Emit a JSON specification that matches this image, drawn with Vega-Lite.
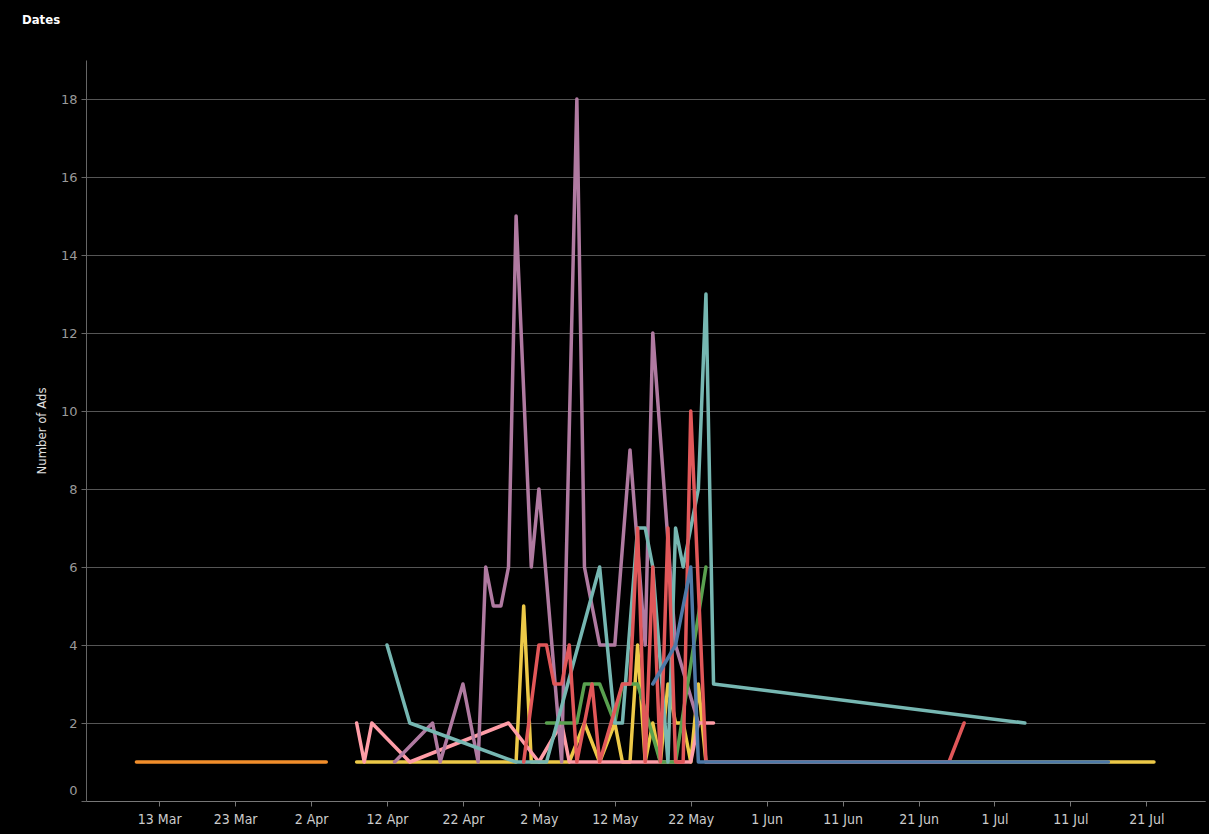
{
  "$schema": "https://vega.github.io/schema/vega-lite/v6.json",
  "width": 1119,
  "height": 741,
  "autosize": {"type": "none"},
  "padding": {"left": 86, "top": 60, "right": 4, "bottom": 33},
  "background": "#000000",
  "title": {
    "text": "Dates",
    "anchor": "start",
    "frame": "group",
    "dx": -64,
    "offset": 33,
    "font": "DejaVu Sans Condensed, Roboto, sans-serif",
    "fontSize": 13,
    "fontWeight": "bold",
    "color": "#ffffff"
  },
  "config": {
    "view": {"stroke": null},
    "axis": {"labelFont": "DejaVu Sans Condensed, Roboto, sans-serif", "titleFont": "DejaVu Sans Condensed, Roboto, sans-serif"}
  },
  "data": {
    "values": [
      {"ad": "Ad 1", "date": "2019-03-10", "ads": 1},
      {"ad": "Ad 1", "date": "2019-03-29", "ads": 1},
      {"ad": "Ad 1", "date": "2019-04-04", "ads": 1},

      {"ad": "Ad 2", "date": "2019-04-08", "ads": 1},
      {"ad": "Ad 2", "date": "2019-04-15", "ads": 1},
      {"ad": "Ad 2", "date": "2019-04-22", "ads": 1},
      {"ad": "Ad 2", "date": "2019-04-29", "ads": 1},
      {"ad": "Ad 2", "date": "2019-04-30", "ads": 5},
      {"ad": "Ad 2", "date": "2019-05-01", "ads": 1},
      {"ad": "Ad 2", "date": "2019-05-06", "ads": 1},
      {"ad": "Ad 2", "date": "2019-05-08", "ads": 2},
      {"ad": "Ad 2", "date": "2019-05-10", "ads": 1},
      {"ad": "Ad 2", "date": "2019-05-12", "ads": 2},
      {"ad": "Ad 2", "date": "2019-05-13", "ads": 1},
      {"ad": "Ad 2", "date": "2019-05-14", "ads": 1},
      {"ad": "Ad 2", "date": "2019-05-15", "ads": 4},
      {"ad": "Ad 2", "date": "2019-05-16", "ads": 1},
      {"ad": "Ad 2", "date": "2019-05-17", "ads": 2},
      {"ad": "Ad 2", "date": "2019-05-18", "ads": 1},
      {"ad": "Ad 2", "date": "2019-05-19", "ads": 3},
      {"ad": "Ad 2", "date": "2019-05-20", "ads": 2},
      {"ad": "Ad 2", "date": "2019-05-21", "ads": 2},
      {"ad": "Ad 2", "date": "2019-05-22", "ads": 1},
      {"ad": "Ad 2", "date": "2019-05-23", "ads": 3},
      {"ad": "Ad 2", "date": "2019-05-24", "ads": 1},
      {"ad": "Ad 2", "date": "2019-07-22", "ads": 1},

      {"ad": "Ad 3", "date": "2019-04-08", "ads": 2},
      {"ad": "Ad 3", "date": "2019-04-09", "ads": 1},
      {"ad": "Ad 3", "date": "2019-04-10", "ads": 2},
      {"ad": "Ad 3", "date": "2019-04-15", "ads": 1},
      {"ad": "Ad 3", "date": "2019-04-28", "ads": 2},
      {"ad": "Ad 3", "date": "2019-05-02", "ads": 1},
      {"ad": "Ad 3", "date": "2019-05-05", "ads": 2},
      {"ad": "Ad 3", "date": "2019-05-06", "ads": 1},
      {"ad": "Ad 3", "date": "2019-05-12", "ads": 1},
      {"ad": "Ad 3", "date": "2019-05-18", "ads": 1},
      {"ad": "Ad 3", "date": "2019-05-22", "ads": 1},
      {"ad": "Ad 3", "date": "2019-05-23", "ads": 2},
      {"ad": "Ad 3", "date": "2019-05-25", "ads": 2},

      {"ad": "Ad 4", "date": "2019-04-13", "ads": 1},
      {"ad": "Ad 4", "date": "2019-04-18", "ads": 2},
      {"ad": "Ad 4", "date": "2019-04-19", "ads": 1},
      {"ad": "Ad 4", "date": "2019-04-22", "ads": 3},
      {"ad": "Ad 4", "date": "2019-04-24", "ads": 1},
      {"ad": "Ad 4", "date": "2019-04-25", "ads": 6},
      {"ad": "Ad 4", "date": "2019-04-26", "ads": 5},
      {"ad": "Ad 4", "date": "2019-04-27", "ads": 5},
      {"ad": "Ad 4", "date": "2019-04-28", "ads": 6},
      {"ad": "Ad 4", "date": "2019-04-29", "ads": 15},
      {"ad": "Ad 4", "date": "2019-05-01", "ads": 6},
      {"ad": "Ad 4", "date": "2019-05-02", "ads": 8},
      {"ad": "Ad 4", "date": "2019-05-05", "ads": 1},
      {"ad": "Ad 4", "date": "2019-05-07", "ads": 18},
      {"ad": "Ad 4", "date": "2019-05-08", "ads": 6},
      {"ad": "Ad 4", "date": "2019-05-10", "ads": 4},
      {"ad": "Ad 4", "date": "2019-05-12", "ads": 4},
      {"ad": "Ad 4", "date": "2019-05-14", "ads": 9},
      {"ad": "Ad 4", "date": "2019-05-16", "ads": 4},
      {"ad": "Ad 4", "date": "2019-05-17", "ads": 12},
      {"ad": "Ad 4", "date": "2019-05-20", "ads": 4},
      {"ad": "Ad 4", "date": "2019-05-23", "ads": 2},

      {"ad": "Ad 5", "date": "2019-05-03", "ads": 2},
      {"ad": "Ad 5", "date": "2019-05-05", "ads": 2},
      {"ad": "Ad 5", "date": "2019-05-07", "ads": 2},
      {"ad": "Ad 5", "date": "2019-05-08", "ads": 3},
      {"ad": "Ad 5", "date": "2019-05-10", "ads": 3},
      {"ad": "Ad 5", "date": "2019-05-12", "ads": 2},
      {"ad": "Ad 5", "date": "2019-05-13", "ads": 3},
      {"ad": "Ad 5", "date": "2019-05-15", "ads": 3},
      {"ad": "Ad 5", "date": "2019-05-18", "ads": 1},
      {"ad": "Ad 5", "date": "2019-05-20", "ads": 1},
      {"ad": "Ad 5", "date": "2019-05-24", "ads": 6},

      {"ad": "Ad 6", "date": "2019-04-12", "ads": 4},
      {"ad": "Ad 6", "date": "2019-04-15", "ads": 2},
      {"ad": "Ad 6", "date": "2019-04-29", "ads": 1},
      {"ad": "Ad 6", "date": "2019-05-03", "ads": 1},
      {"ad": "Ad 6", "date": "2019-05-10", "ads": 6},
      {"ad": "Ad 6", "date": "2019-05-12", "ads": 2},
      {"ad": "Ad 6", "date": "2019-05-13", "ads": 2},
      {"ad": "Ad 6", "date": "2019-05-15", "ads": 7},
      {"ad": "Ad 6", "date": "2019-05-16", "ads": 7},
      {"ad": "Ad 6", "date": "2019-05-17", "ads": 6},
      {"ad": "Ad 6", "date": "2019-05-19", "ads": 1},
      {"ad": "Ad 6", "date": "2019-05-20", "ads": 7},
      {"ad": "Ad 6", "date": "2019-05-21", "ads": 6},
      {"ad": "Ad 6", "date": "2019-05-23", "ads": 8},
      {"ad": "Ad 6", "date": "2019-05-24", "ads": 13},
      {"ad": "Ad 6", "date": "2019-05-25", "ads": 3},
      {"ad": "Ad 6", "date": "2019-07-05", "ads": 2},

      {"ad": "Ad 7", "date": "2019-04-30", "ads": 1},
      {"ad": "Ad 7", "date": "2019-05-02", "ads": 4},
      {"ad": "Ad 7", "date": "2019-05-03", "ads": 4},
      {"ad": "Ad 7", "date": "2019-05-04", "ads": 3},
      {"ad": "Ad 7", "date": "2019-05-05", "ads": 3},
      {"ad": "Ad 7", "date": "2019-05-06", "ads": 4},
      {"ad": "Ad 7", "date": "2019-05-07", "ads": 1},
      {"ad": "Ad 7", "date": "2019-05-09", "ads": 3},
      {"ad": "Ad 7", "date": "2019-05-10", "ads": 1},
      {"ad": "Ad 7", "date": "2019-05-13", "ads": 3},
      {"ad": "Ad 7", "date": "2019-05-14", "ads": 3},
      {"ad": "Ad 7", "date": "2019-05-15", "ads": 7},
      {"ad": "Ad 7", "date": "2019-05-16", "ads": 1},
      {"ad": "Ad 7", "date": "2019-05-17", "ads": 6},
      {"ad": "Ad 7", "date": "2019-05-18", "ads": 1},
      {"ad": "Ad 7", "date": "2019-05-19", "ads": 7},
      {"ad": "Ad 7", "date": "2019-05-20", "ads": 1},
      {"ad": "Ad 7", "date": "2019-05-21", "ads": 1},
      {"ad": "Ad 7", "date": "2019-05-22", "ads": 10},
      {"ad": "Ad 7", "date": "2019-05-24", "ads": 1},
      {"ad": "Ad 7", "date": "2019-06-25", "ads": 1},
      {"ad": "Ad 7", "date": "2019-06-27", "ads": 2},

      {"ad": "Ad 8", "date": "2019-05-17", "ads": 3},
      {"ad": "Ad 8", "date": "2019-05-20", "ads": 4},
      {"ad": "Ad 8", "date": "2019-05-22", "ads": 6},
      {"ad": "Ad 8", "date": "2019-05-23", "ads": 1},
      {"ad": "Ad 8", "date": "2019-06-04", "ads": 1},
      {"ad": "Ad 8", "date": "2019-06-22", "ads": 1},
      {"ad": "Ad 8", "date": "2019-07-08", "ads": 1},
      {"ad": "Ad 8", "date": "2019-07-12", "ads": 1},
      {"ad": "Ad 8", "date": "2019-07-16", "ads": 1}
    ]
  },
  "mark": {"type": "line", "strokeWidth": 3.5, "strokeJoin": "round", "strokeCap": "round", "clip": true},
  "encoding": {
    "x": {
      "field": "date",
      "type": "temporal",
      "scale": {
        "type": "utc",
        "domain": [
          {"year": 2019, "month": 3, "date": 3, "hours": 8, "minutes": 38, "utc": true},
          {"year": 2019, "month": 7, "date": 28, "hours": 17, "minutes": 18, "utc": true}
        ]
      },
      "axis": {
        "title": null,
        "values": [
          {"year": 2019, "month": 3, "date": 13, "utc": true},
          {"year": 2019, "month": 3, "date": 23, "utc": true},
          {"year": 2019, "month": 4, "date": 2, "utc": true},
          {"year": 2019, "month": 4, "date": 12, "utc": true},
          {"year": 2019, "month": 4, "date": 22, "utc": true},
          {"year": 2019, "month": 5, "date": 2, "utc": true},
          {"year": 2019, "month": 5, "date": 12, "utc": true},
          {"year": 2019, "month": 5, "date": 22, "utc": true},
          {"year": 2019, "month": 6, "date": 1, "utc": true},
          {"year": 2019, "month": 6, "date": 11, "utc": true},
          {"year": 2019, "month": 6, "date": 21, "utc": true},
          {"year": 2019, "month": 7, "date": 1, "utc": true},
          {"year": 2019, "month": 7, "date": 11, "utc": true},
          {"year": 2019, "month": 7, "date": 21, "utc": true}
        ],
        "format": "%-d %b",
        "grid": false,
        "labelColor": "#cccccc",
        "labelFontSize": 14,
        "labelPadding": 6,
        "tickColor": "#777777",
        "tickSize": 5,
        "domainColor": "#777777",
        "labelOverlap": false
      }
    },
    "y": {
      "field": "ads",
      "type": "quantitative",
      "scale": {"domain": [0, 19], "nice": false, "zero": true},
      "axis": {
        "title": "Number of Ads",
        "titleColor": "#e0e0e0",
        "titleFontSize": 13,
        "titleFontWeight": "normal",
        "titlePadding": 12,
        "values": [0, 2, 4, 6, 8, 10, 12, 14, 16, 18],
        "labelFont": "DejaVu Sans",
        "labelColor": "#9a9a9a",
        "labelFontSize": 13,
        "labelPadding": 4,
        "labelFlush": true,
        "labelFlushOffset": -4,
        "tickColor": "#666666",
        "tickSize": 5,
        "domainColor": "#666666",
        "grid": true,
        "gridColor": "#555555",
        "gridWidth": 1
      }
    },
    "color": {
      "field": "ad",
      "type": "nominal",
      "legend": null,
      "sort": null,
      "scale": {
        "domain": ["Ad 1", "Ad 2", "Ad 3", "Ad 4", "Ad 5", "Ad 6", "Ad 7", "Ad 8"],
        "range": ["#F28E2B", "#EDC948", "#FF9DA7", "#B07AA1", "#59A14F", "#76B7B2", "#E15759", "#4E79A7"]
      }
    }
  }
}
